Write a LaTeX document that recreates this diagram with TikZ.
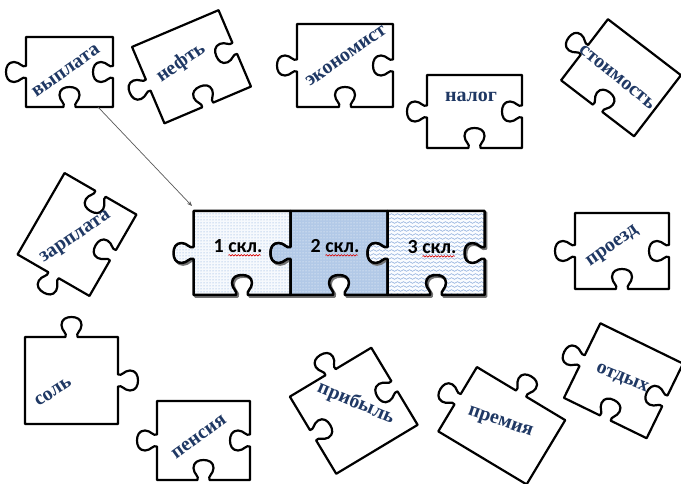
\documentclass[tikz,border=0pt]{standalone}
\usepackage{fontspec}
\setmainfont{Liberation Serif}
\newfontfamily\carl{Carlito}
\usetikzlibrary{arrows.meta,patterns,decorations.pathmorphing}
\definecolor{navy}{RGB}{31,56,100}
\definecolor{onefill}{RGB}{246,249,253}
\definecolor{onedot}{RGB}{120,160,215}
\definecolor{twofill}{RGB}{178,201,231}
\definecolor{threefill}{RGB}{250,252,255}
\definecolor{threewave}{RGB}{110,150,210}
\pgfdeclarepatternformonly{waves}{\pgfpoint{0pt}{-0.5pt}}{\pgfpoint{6pt}{3.5pt}}{\pgfpoint{6pt}{4pt}}{%
  \pgfsetlinewidth{0.45pt}%
  \pgfpathmoveto{\pgfpoint{0pt}{1.5pt}}%
  \pgfpathcurveto{\pgfpoint{1pt}{2.6pt}}{\pgfpoint{2pt}{2.6pt}}{\pgfpoint{3pt}{1.5pt}}%
  \pgfpathcurveto{\pgfpoint{4pt}{0.4pt}}{\pgfpoint{5pt}{0.4pt}}{\pgfpoint{6pt}{1.5pt}}%
  \pgfusepath{stroke}}
% point on an edge: Mx My ex ey u v t
\newcommand\pzpt[7]{({#1+(#5)*(#3)+(#7)*(#6)*(#4)},{#2+(#5)*(#4)-(#7)*(#6)*(#3)})}
% edge feature: Mx My ex ey t   (t=1 knob out, t=-1 notch in, t=0 flat)
\newcommand\pzedge[5]{%
 -- \pzpt{#1}{#2}{#3}{#4}{-6}{0}{#5}
 .. controls \pzpt{#1}{#2}{#3}{#4}{-4}{4}{#5} and \pzpt{#1}{#2}{#3}{#4}{-10}{6}{#5} .. \pzpt{#1}{#2}{#3}{#4}{-10}{12}{#5}
 .. controls \pzpt{#1}{#2}{#3}{#4}{-10}{18}{#5} and \pzpt{#1}{#2}{#3}{#4}{-5}{20}{#5} .. \pzpt{#1}{#2}{#3}{#4}{0}{20}{#5}
 .. controls \pzpt{#1}{#2}{#3}{#4}{5}{20}{#5} and \pzpt{#1}{#2}{#3}{#4}{10}{18}{#5} .. \pzpt{#1}{#2}{#3}{#4}{10}{12}{#5}
 .. controls \pzpt{#1}{#2}{#3}{#4}{10}{6}{#5} and \pzpt{#1}{#2}{#3}{#4}{4}{4}{#5} .. \pzpt{#1}{#2}{#3}{#4}{6}{0}{#5}}
\tikzset{
  pics/piece/.style n args={6}{code={
    \path[pic actions] ({-#1/2},{-#2/2}) \pzedge{0}{-#2/2}{1}{0}{#3}
      -- ({#1/2},{-#2/2}) \pzedge{#1/2}{0}{0}{1}{#4}
      -- ({#1/2},{#2/2}) \pzedge{0}{#2/2}{-1}{0}{#5}
      -- ({-#1/2},{#2/2}) \pzedge{-#1/2}{0}{0}{-1}{#6}
      -- cycle;
  }},
  pz/.style={draw=black, fill=white, line width=2.2pt, line join=round},
  pzc/.style={draw=black, line width=2.5pt, line join=round},
  pzshadow/.style={draw=black!55, line width=2.5pt, line join=round, shift={(1.6,1.6)}},
  lbl/.style={text=navy, inner sep=0pt, font=\fontsize{20}{24}\selectfont\bfseries},
  ctr/.style={text=black, inner sep=0pt, font=\carl\fontsize{20}{24}\selectfont\bfseries},
  squig/.style={draw=red!85!black, line width=0.6pt, decorate,
    decoration={snake, amplitude=0.7pt, segment length=3pt}},
  arrowline/.style={draw=black!65, line width=0.7pt, -{Stealth[length=5pt,width=4pt]}},
}
\begin{document}
\begin{tikzpicture}[x=1pt,y=-1pt]
\useasboundingbox (0,0) rectangle (681,484);
\clip (0,0) rectangle (681,484);
\fill[white] (0,0) rectangle (681,484);
% scattered pieces
\pic[pz] at (69.5,72) {piece={87}{70}{0}{-1}{-1}{1}};
\pic[pz, rotate=23] at (191.5,66.75) {piece={94}{83}{0}{-1}{-1}{1}};
\pic[pz] at (345,65.5) {piece={96}{83}{0}{-1}{-1}{1}};
\pic[pz] at (474.5,111.5) {piece={95}{73}{0}{-1}{-1}{1}};
\pic[pz, rotate=-37.5] at (621,77.75) {piece={92}{77}{0}{0}{-1}{1}};
\pic[pz, rotate=60] at (77,234.5) {piece={94}{83}{0}{-1}{-1}{1}};
\pic[pz] at (622,251) {piece={94}{76}{0}{-1}{-1}{1}};
\pic[pz] at (71.5,380.5) {piece={93}{87}{1}{1}{0}{0}};
\pic[pz] at (203.5,440.5) {piece={93}{79}{0}{-1}{-1}{1}};
\pic[pz, rotate=31] at (353.75,410.75) {piece={95}{90}{1}{-1}{0}{-1}};
\pic[pz, rotate=-31] at (501.75,425.75) {piece={103}{75}{1}{0}{0}{1}};
\pic[pz, rotate=-26] at (623.5,380.75) {piece={92}{83}{0}{-1}{-1}{1}};
% labels
\node[lbl, rotate=35] (tvyplata) at (66,71) {выплата};
\node[lbl, rotate=35] (tneft) at (181,63) {нефть};
\node[lbl, rotate=35] (tekonomist) at (346,56) {экономист};
\node[lbl] (tnalog) at (471,97) {налог};
\node[lbl, rotate=-39] (tstoimost) at (617,77) {стоимость};
\node[lbl, rotate=34] (tzarplata) at (76,238) {зарплата};
\node[lbl, rotate=35] (tproezd) at (613,247) {проезд};
\node[lbl, rotate=33] (tsol) at (53,392) {соль};
\node[lbl, rotate=36] (tpensiya) at (199,437) {пенсия};
\node[lbl, rotate=-23] (tpribyl) at (356,403) {прибыль};
\node[lbl, rotate=-19] (tpremiya) at (500,423) {премия};
\node[lbl, rotate=-22] (totdykh) at (622,379) {отдых};
% central chain
\pic[pzshadow] at (242,253) {piece={97}{84}{0}{-1}{-1}{1}};
\pic[fill=onefill] at (242,253) {piece={97}{84}{0}{-1}{-1}{1}};
\pic[pzc, pattern=dots, pattern color=onedot] at (242,253) {piece={97}{84}{0}{-1}{-1}{1}};
\pic[pzshadow] at (339,253) {piece={97}{84}{0}{-1}{-1}{1}};
\pic[fill=twofill] at (339,253) {piece={97}{84}{0}{-1}{-1}{1}};
\pic[pzc, pattern=dots, pattern color=white] at (339,253) {piece={97}{84}{0}{-1}{-1}{1}};
\pic[pzshadow] at (436,253) {piece={97}{84}{0}{-1}{-1}{1}};
\pic[fill=threefill] at (436,253) {piece={97}{84}{0}{-1}{-1}{1}};
\pic[pzc, pattern=waves, pattern color=threewave] at (436,253) {piece={97}{84}{0}{-1}{-1}{1}};
\node[ctr] (l1) at (238,246) {1 скл.};
\node[ctr] (l2) at (335,246) {2 скл.};
\node[ctr] (l3) at (432,247) {3 скл.};
\draw[squig] ([xshift=15pt,yshift=-2.5pt]l1.south west) -- ([xshift=-2pt,yshift=-2.5pt]l1.south east);
\draw[squig] ([xshift=15pt,yshift=-2.5pt]l2.south west) -- ([xshift=-2pt,yshift=-2.5pt]l2.south east);
\draw[squig] ([xshift=15pt,yshift=-2.5pt]l3.south west) -- ([xshift=-2pt,yshift=-2.5pt]l3.south east);
% arrow
\coordinate (arrowstart) at (98,107);
\coordinate (onecorner) at (192,206);
\draw[arrowline] (arrowstart) -- (onecorner);
\end{tikzpicture}
\end{document}
